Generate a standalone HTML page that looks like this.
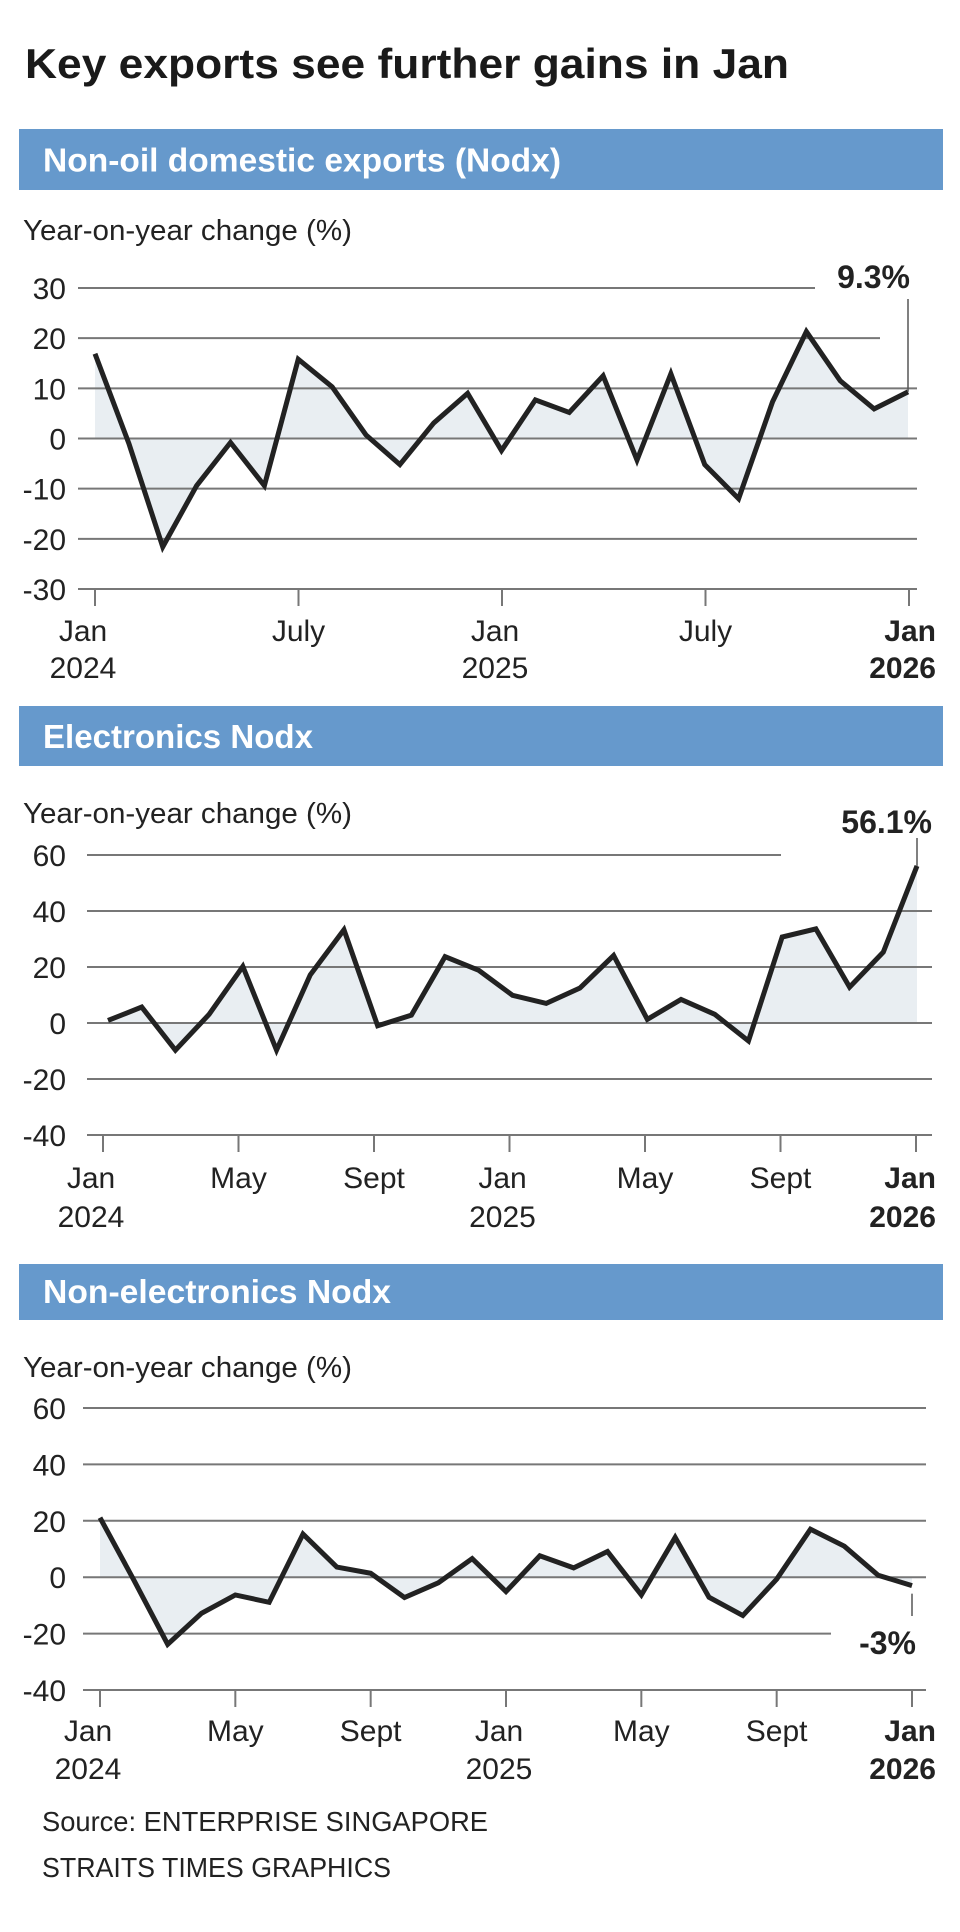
<!DOCTYPE html>
<html><head><meta charset="utf-8"><style>
html,body{margin:0;padding:0;background:#fff;}
svg{display:block;font-family:"Liberation Sans Narrow","Liberation Sans",sans-serif;}
</style></head><body>
<svg id="s" width="960" height="1932" viewBox="0 0 960 1932">
<text x="25" y="78" font-size="42" font-weight="bold" fill="#1a1a1a" textLength="764" lengthAdjust="spacingAndGlyphs">Key exports see further gains in Jan</text>
<text x="42" y="1831" font-size="28" fill="#222" textLength="446" lengthAdjust="spacingAndGlyphs">Source: ENTERPRISE SINGAPORE</text>
<text x="42" y="1877" font-size="28" fill="#222" textLength="349" lengthAdjust="spacingAndGlyphs">STRAITS TIMES GRAPHICS</text>
</svg>
<script>
// Chart 1: Nodx
const nodxValues=[16.9,-1,-21.6,-9.4,-0.8,-9.4,15.8,10.3,0.7,-5.2,3.1,9.0,-2.4,7.7,5.2,12.5,-4.3,12.9,-5.2,-12.0,7.3,21.3,11.5,5.9,9.3];
const nodxTicks=[30,20,10,0,-10,-20,-30];
// Chart 2: Electronics
const elecValues=[0.9,5.7,-9.7,3.1,20.2,-9.7,17.2,33.3,-1.0,2.8,23.7,18.8,9.9,7.0,12.5,24.1,1.3,8.4,3.1,-6.4,30.7,33.6,12.8,25.3,56.1];
const elecTicks=[60,40,20,0,-20,-40];
// Chart 3: Non-electronics
const nonElecValues=[21.1,-1,-23.8,-12.8,-6.3,-8.9,15.3,3.6,1.4,-7.2,-2.0,6.6,-5.1,7.6,3.3,9.1,-6.3,14.1,-7.1,-13.6,-0.7,17.0,11.0,0.7,-3];
const nonElecTicks=[60,40,20,0,-20,-40];
const ticks1Month=[0,6,12,18,24];
const ticks1Label=[["Jan","2024"],["July",""],["Jan","2025"],["July",""],["Jan","2026"]];
const ticks2Month=[0,4,8,12,16,20,24];
const ticks2Label=[["Jan","2024"],["May",""],["Sept",""],["Jan","2025"],["May",""],["Sept",""],["Jan","2026"]];

const NS="http://www.w3.org/2000/svg";
const svg=document.getElementById('s');
function mk(tag,attrs,parent){const e=document.createElementNS(NS,tag);for(const k in attrs)e.setAttribute(k,attrs[k]);(parent||svg).appendChild(e);return e;}

const charts=[
 {name:'nodx',title:'Non-oil domestic exports (Nodx)',titleW:518,barY:129,barH:61,labelY:240,
  vals:nodxValues,ticks:nodxTicks,vmax:30,vmin:-30,yTop:288,yBot:589,gx0:78,gx1:917,
  gridEnds:{"30":815,"20":880},px0:95,px1:908,tx0:95,tx1:909,tickMonths:ticks1Month,tickLabels:ticks1Label,
  xl1:641,xl2:678,ann:'9.3%',annY:288,annX:910,leadTop:299},
 {name:'electronics',title:'Electronics Nodx',titleW:270,barY:706,barH:60,labelY:823,
  vals:elecValues,ticks:elecTicks,vmax:60,vmin:-40,yTop:855,yBot:1135,gx0:87,gx1:932,
  gridEnds:{"60":781},px0:108,px1:917,tx0:103,tx1:916,tickMonths:ticks2Month,tickLabels:ticks2Label,
  xl1:1188,xl2:1227,ann:'56.1%',annY:833,annX:932,leadTop:838},
 {name:'non-electronics',title:'Non-electronics Nodx',titleW:348,barY:1264,barH:56,labelY:1377,
  vals:nonElecValues,ticks:nonElecTicks,vmax:60,vmin:-40,yTop:1408,yBot:1690,gx0:83,gx1:926,
  gridEnds:{"-20":831},px0:100,px1:912,tx0:100,tx1:912,tickMonths:ticks2Month,tickLabels:ticks2Label,
  xl1:1741,xl2:1779,ann:'-3%',annY:1654,annX:916,leadBottom:1616}
];

charts.forEach(c=>{
  const g=mk('g',{});
  
  
  const bar=mk('rect',{x:19,y:c.barY,width:924,height:c.barH,fill:'#6699cc'},g);
  
  
  const ht=mk('text',{x:43,y:c.barY+c.barH*0.7,'font-size':33,'font-weight':'bold',fill:'#fff',textLength:c.titleW,lengthAdjust:'spacingAndGlyphs'},g);
  ht.textContent=c.title;
  
  
  const yl=mk('text',{x:23,y:c.labelY,'font-size':29,fill:'#222',textLength:329,lengthAdjust:'spacingAndGlyphs'},g);
  yl.textContent='Year-on-year change (%)';
  
  
  const y=v=>c.yTop+(c.vmax-v)/(c.vmax-c.vmin)*(c.yBot-c.yTop);
  const x=i=>c.px0+i*(c.px1-c.px0)/(c.vals.length-1);
  const tx=m=>c.tx0+m*(c.tx1-c.tx0)/24;
  let d='M'+x(0)+','+y(0);
  c.vals.forEach((v,i)=>{d+=' L'+x(i)+','+y(v);});
  d+=' L'+x(c.vals.length-1)+','+y(0)+' Z';
  const area=mk('path',{d:d,fill:'#e9eef2'},g);
  
  
  c.ticks.forEach(t=>{
    const end=c.gridEnds[String(t)]||c.gx1;
    const gl=mk('line',{x1:c.gx0,x2:end,y1:y(t),y2:y(t),stroke:'#777','stroke-width':2},g);
    
    
    const tl=mk('text',{x:66,y:y(t)+11,'font-size':30,fill:'#222','text-anchor':'end'},g);
    tl.textContent=String(t);
    
    
  });
  c.tickMonths.forEach((m,k)=>{
    const tk=mk('line',{x1:tx(m),x2:tx(m),y1:c.yBot,y2:c.yBot+17,stroke:'#777','stroke-width':2},g);
    
    
    const last=k===c.tickMonths.length-1;
    const first=k===0;
    const lab=c.tickLabels[k];
    const lx=last?936:(first?tx(m)-12:(lab[1]?tx(m)-7:tx(m)));
    const anchor=last?'end':'middle';
    const t1=mk('text',{x:lx,y:c.xl1,'font-size':30,fill:'#222','text-anchor':anchor,'font-weight':last?'bold':'normal'},g);
    t1.textContent=lab[0];
    
    
    if(lab[1]){
      const t2=mk('text',{x:lx,y:c.xl2,'font-size':30,fill:'#222','text-anchor':anchor,'font-weight':last?'bold':'normal'},g);
      t2.textContent=lab[1];
      
      
    }
  });
  const pts=c.vals.map((v,i)=>x(i)+','+y(v)).join(' ');
  const pl=mk('polyline',{points:pts,fill:'none',stroke:'#222','stroke-width':5,'stroke-linejoin':'miter'},g);
  
  
  const lv=c.vals[c.vals.length-1];
  const lx=x(c.vals.length-1);
  const ly1=c.leadTop!==undefined?c.leadTop:y(lv)+8;
  const ly2=c.leadTop!==undefined?y(lv):c.leadBottom;
  const ld=mk('line',{x1:lx,x2:lx,y1:ly1,y2:ly2,stroke:'#555','stroke-width':1.5},g);
  
  
  const at=mk('text',{x:c.annX,y:c.annY,'font-size':32,'font-weight':'bold',fill:'#222','text-anchor':'end'},g);
  at.textContent=c.ann;
  
  
});
</script>
</body></html>
